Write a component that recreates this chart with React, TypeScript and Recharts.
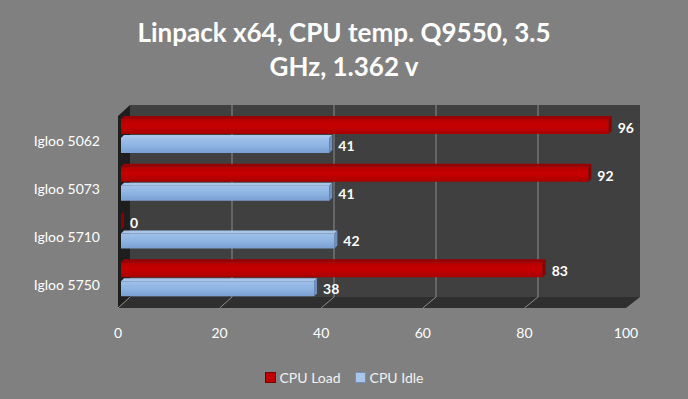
import React from 'react'
import { BarChart, Bar, XAxis, YAxis, Legend, LabelList, Customized } from 'recharts'

const categories = ['Igloo 5062', 'Igloo 5073', 'Igloo 5710', 'Igloo 5750']
const cpuLoad = [96, 92, 0, 83]
const cpuIdle = [41, 41, 42, 38]
const xTicks = [0, 20, 40, 60, 80, 100]

const data = categories.map((name, i) => ({ name, load: cpuLoad[i], idle: cpuIdle[i] }))

const W = 688
const H = 399
const FONT = 'Lato, "Open Sans", sans-serif'

// bar plane (mid depth), back wall and front edge of the 3d box
const PLOT = { left: 121, right: 629, top: 111, bottom: 302 }
const BACK = { left: 130, right: 640, top: 105, bottom: 297 }
const FRONT = { left: 118, right: 626, top: 116, bottom: 308 }

const onPlane = (p: { left: number; right: number }, v: number) => p.left + (v / 100) * (p.right - p.left)

const Walls = () => (
  <g>
    <rect x={BACK.left} y={BACK.top} width={BACK.right - BACK.left} height={BACK.bottom - BACK.top} fill="#404040" />
    <polygon
      points={`${FRONT.left},${FRONT.top} ${BACK.left},${BACK.top} ${BACK.left},${BACK.bottom} ${FRONT.left},${FRONT.bottom}`}
      fill="#1e1e1e"
    />
    <polygon
      points={`${FRONT.left},${FRONT.bottom} ${BACK.left},${BACK.bottom} ${BACK.right},${BACK.bottom} ${FRONT.right},${FRONT.bottom}`}
      fill="#2f2f2f"
    />
    {xTicks.map((v) => (
      <g key={v}>
        {v > 0 && v < 100 && (
          <line x1={onPlane(BACK, v)} x2={onPlane(BACK, v)} y1={BACK.top} y2={BACK.bottom} stroke="#8c8c8c" strokeWidth={1} />
        )}
        {v < 100 && (
          <line x1={onPlane(BACK, v)} y1={BACK.bottom} x2={onPlane(FRONT, v)} y2={FRONT.bottom} stroke="#8c8c8c" strokeWidth={1} />
        )}
      </g>
    ))}
  </g>
)

const makeBar = (grad: string, top: string, side: string) => (props: any) => {
  const { x, y, width, height } = props
  const w = Math.max(width || 0, 0)
  const d = 3
  return (
    <g>
      <rect x={x} y={y + d} width={w} height={height - d} fill={`url(#${grad})`} />
      <polygon points={`${x},${y + d} ${x + d},${y} ${x + w + d},${y} ${x + w},${y + d}`} fill={top} />
      <polygon points={`${x + w},${y + d} ${x + w + d},${y} ${x + w + d},${y + height - d} ${x + w},${y + height}`} fill={side} />
    </g>
  )
}

const LoadBar = makeBar('gLoad', '#9a0000', '#8c0000')
const IdleBar = makeBar('gIdle', '#a9c5ea', '#6f8fbf')

const YTick = (props: any) => {
  const { x, y, payload } = props
  return (
    <text x={x} y={y + 6} textAnchor="end" dominantBaseline="central" fill="#ffffff" fontSize={14} fontFamily={FONT}>
      {payload.value}
    </text>
  )
}

const XTick = (props: any) => {
  const { y, payload } = props
  return (
    <text x={onPlane(FRONT, payload.value)} y={y} dy="0.71em" textAnchor="middle" fill="#ffffff" fontSize={14} fontFamily={FONT}>
      {payload.value}
    </text>
  )
}

const marker = (fill: string, border: string) => (
  <span style={{ display: 'inline-block', width: 9, height: 9, background: fill, border: `1px solid ${border}`, marginRight: 4 }} />
)

const renderLegend = () => (
  <div style={{ display: 'flex', justifyContent: 'center', alignItems: 'center', height: 24, fontFamily: FONT, fontSize: 14, color: '#f2f2f2' }}>
    <span style={{ display: 'flex', alignItems: 'center', marginRight: 14 }}>
      {marker('#c00000', '#7a0000')}CPU Load
    </span>
    <span style={{ display: 'flex', alignItems: 'center' }}>
      {marker('#a9c5ea', '#6f8fbf')}CPU Idle
    </span>
  </div>
)

export default function App() {
  return (
    <div style={{ position: 'absolute', left: 0, top: 0, width: W, height: H, background: '#808080', fontFamily: FONT }}>
      <div
        style={{
          position: 'absolute',
          top: 15,
          left: 0,
          width: W,
          textAlign: 'center',
          color: '#ffffff',
          fontWeight: 'bold',
          fontSize: 26,
          lineHeight: '34px',
        }}
      >
        Linpack x64, CPU temp. Q9550, 3.5
        <br />
        GHz, 1.362 v
      </div>
      <BarChart
        width={W}
        height={H}
        data={data}
        layout="vertical"
        barSize={18}
        barGap={1}
        margin={{ top: PLOT.top, right: W - PLOT.right, bottom: 10, left: 0 }}
      >
        <defs>
          <linearGradient id="gLoad" x1="0" y1="0" x2="0" y2="1">
            <stop offset="0%" stopColor="#b40000" />
            <stop offset="45%" stopColor="#c80000" />
            <stop offset="100%" stopColor="#a80000" />
          </linearGradient>
          <linearGradient id="gIdle" x1="0" y1="0" x2="0" y2="1">
            <stop offset="0%" stopColor="#9fc0ea" />
            <stop offset="50%" stopColor="#8db4e2" />
            <stop offset="100%" stopColor="#7a9fd2" />
          </linearGradient>
        </defs>
        <Customized component={<Walls />} />
        <XAxis
          type="number"
          domain={[0, 100]}
          ticks={xTicks}
          axisLine={false}
          tickLine={false}
          tickSize={0}
          tickMargin={26}
          height={63}
          tick={<XTick />}
          interval={0}
        />
        <YAxis
          type="category"
          dataKey="name"
          width={PLOT.left}
          axisLine={false}
          tickLine={false}
          tickSize={0}
          tickMargin={21}
          tick={<YTick />}
        />
        <Legend verticalAlign="bottom" content={renderLegend} wrapperStyle={{ left: 0, width: W, height: 24 }} />
        <Bar dataKey="load" name="CPU Load" fill="#c00000" shape={LoadBar} isAnimationActive={false}>
          <LabelList dataKey="load" position="right" offset={9} dy={3} fill="#ffffff" fontWeight="bold" fontSize={14} fontFamily={FONT} />
        </Bar>
        <Bar dataKey="idle" name="CPU Idle" fill="#8db4e2" shape={IdleBar} isAnimationActive={false}>
          <LabelList dataKey="idle" position="right" offset={9} dy={2} fill="#ffffff" fontWeight="bold" fontSize={14} fontFamily={FONT} />
        </Bar>
      </BarChart>
    </div>
  )
}
